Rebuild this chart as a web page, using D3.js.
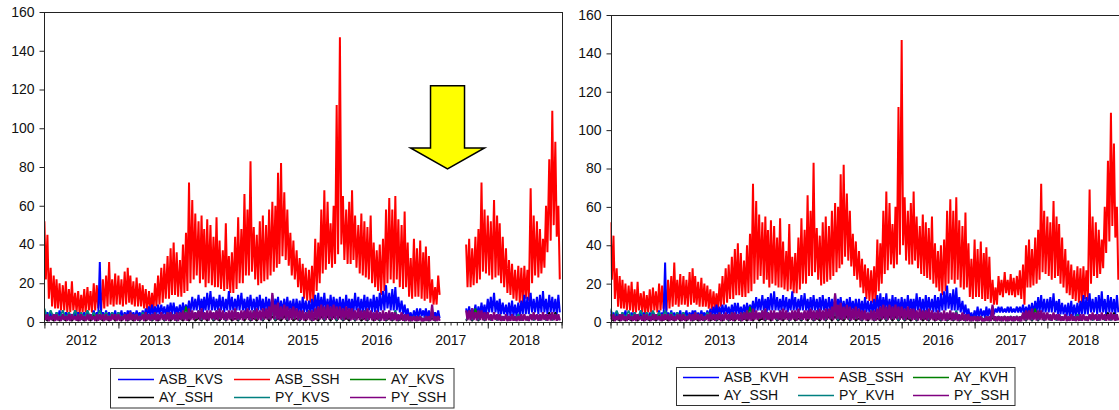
<!DOCTYPE html>
<html>
<head>
<meta charset="utf-8">
<script src="https://cdn.jsdelivr.net/npm/d3@7"></script>
<style>
  html, body { margin: 0; padding: 0; background: #ffffff; }
  svg { display: block; font-family: "Liberation Sans", Arial, sans-serif; }
</style>
</head>
<body>
<svg id="chart" width="1119" height="410"></svg>
<script>
// ---------------------------------------------------------------------------
// Daily series summarised per half-month (Jan 2012 .. Dec 2018, 168 periods):
// "Hi" = upper envelope of the period, "Lo" = lower envelope. One row per year.
// ---------------------------------------------------------------------------

// ASB_SSH
const asbSshHi = [
  52,45,28,24,22,20,19,21,17,21,15,16,14,17,18,16,20,19,17,22,24,31,22,25,
  24,22,26,28,24,21,23,20,19,17,16,15,20,24,28,30,34,38,41,36,32,40,46,72,
  63,56,52,55,48,53,50,44,54,42,37,51,34,36,44,54,48,66,58,83,49,45,52,55,
  50,58,62,60,77,82,67,58,46,42,37,33,30,28,27,29,43,41,58,68,62,51,60,112,
  147,65,58,62,68,55,50,56,52,49,55,41,37,40,43,58,64,58,65,53,50,57,41,33,
  43,38,42,36,39,34,22,18,24,22,26,22,25,23,24,27,30,40,43,38,44,48,72,58,
  55,52,63,55,51,44,38,32,30,27,29,28,29,27,69,55,52,48,43,60,84,109,93,60
];
const asbSshLo = [
  22,12,8,7,7,6,6,5,5,6,5,4,5,5,6,5,6,7,6,7,8,9,8,9,
  9,8,9,10,9,8,8,8,7,6,6,6,8,9,10,12,12,14,14,13,13,15,16,20,
  22,24,20,22,18,20,19,18,18,17,16,17,15,15,17,20,20,24,24,26,22,19,20,21,
  22,24,26,28,30,34,32,29,24,22,18,15,12,11,10,9,16,20,25,27,30,28,30,35,
  40,32,30,30,32,28,25,24,23,22,20,18,16,14,16,20,22,20,22,18,17,18,13,12,
  13,13,12,11,12,10,9,9,14,13,15,14,14,13,14,12,9,18,18,19,20,22,26,25,
  24,22,23,24,20,18,15,14,12,11,10,9,12,11,20,24,23,25,28,36,42,50,44,22
];

// ASB_KVS (null = no observations in the sample)
const asbKvsHi = [
  6,5,5,4,5,6,4,5,5,4,6,5,4,5,5,4,6,5,31,5,6,5,5,6,
  5,6,5,6,6,5,6,5,6,7,8,9,8,9,9,8,9,10,10,8,9,10,9,11,
  13,12,14,12,13,15,16,13,12,14,13,12,16,13,12,14,15,12,13,14,12,13,14,12,
  13,12,14,12,13,11,12,13,11,12,12,11,13,11,11,12,14,15,13,15,12,14,13,12,
  13,12,14,12,12,15,13,12,14,13,12,14,13,15,16,19,15,17,18,13,11,9,7,5,
  6,7,7,6,7,6,6,5,6,null,null,null,null,null,null,null,null,7,8,7,9,8,10,9,
  12,13,15,11,12,10,9,10,11,9,10,11,14,13,15,12,13,14,16,12,14,13,12,14
];
const asbKvsLo = [
  2,2,2,1,2,2,1,2,2,2,2,2,1,2,2,1,2,2,2,2,2,2,2,2,
  2,2,2,3,2,2,3,2,2,3,3,3,4,4,4,3,4,4,4,4,4,5,5,5,
  6,6,6,5,6,6,6,6,6,6,5,6,6,6,6,6,6,5,6,6,5,6,6,5,
  6,5,6,6,5,5,5,6,5,5,5,4,5,5,4,5,5,6,6,6,5,6,6,5,
  5,5,6,5,5,6,5,5,5,6,5,5,5,6,6,7,6,6,6,5,4,3,2,1,
  2,2,3,2,2,2,2,2,2,null,null,null,null,null,null,null,null,3,3,3,3,3,4,3,
  5,5,5,4,4,4,3,3,3,3,3,4,4,4,5,5,4,5,5,4,5,5,4,5
];

// ASB_KVH
const asbKvhHi = [
  6,5,5,4,5,6,4,5,5,4,6,5,4,5,5,4,6,5,31,5,6,5,5,6,
  5,6,5,6,6,5,6,5,6,7,8,9,8,9,9,8,9,10,10,8,9,10,9,11,
  13,12,14,12,13,15,16,13,12,14,13,12,16,13,12,14,15,12,13,14,12,13,14,12,
  13,12,14,12,13,11,12,13,11,12,12,11,13,11,11,12,14,15,13,15,12,14,13,12,
  13,12,14,12,12,15,13,12,14,13,12,14,13,15,16,19,15,17,18,13,11,9,7,5,
  6,8,7,6,8,7,8,7,8,8,7,8,8,7,8,8,9,8,9,10,11,13,14,12,
  12,13,15,11,12,10,9,10,11,9,10,11,14,13,15,12,13,14,16,12,14,13,12,14
];
const asbKvhLo = [
  2,2,2,1,2,2,1,2,2,2,2,2,1,2,2,1,2,2,2,2,2,2,2,2,
  2,2,2,3,2,2,3,2,2,3,3,3,4,4,4,3,4,4,4,4,4,5,5,5,
  6,6,6,5,6,6,6,6,6,6,5,6,6,6,6,6,6,5,6,6,5,6,6,5,
  6,5,6,6,5,5,5,6,5,5,5,4,5,5,4,5,5,6,6,6,5,6,6,5,
  5,5,6,5,5,6,5,5,5,6,5,5,5,6,6,7,6,6,6,5,4,3,2,1,
  2,2,3,2,3,3,4,5,5,5,5,5,5,5,5,5,4,4,4,4,5,5,5,5,
  5,5,5,4,4,4,3,3,3,3,3,4,4,4,5,5,4,5,5,4,5,5,4,5
];

// PY_SSH
const pySshHi = [
  4,4,3,4,4,3,4,3,4,4,3,4,4,3,4,4,3,4,4,4,4,3,4,4,
  4,3,4,4,5,4,4,3,4,5,4,4,5,4,5,4,5,5,4,5,5,6,5,7,
  6,5,6,7,5,6,6,5,6,7,6,5,6,6,7,5,6,6,7,6,6,7,6,7,
  7,8,15,9,10,8,9,8,7,8,7,6,6,5,6,6,7,8,9,8,9,8,9,8,
  8,7,8,7,7,6,7,6,6,7,6,5,6,5,6,5,6,5,5,4,5,4,4,3,
  3,3,3,2,3,3,9,3,3,3,3,3,3,3,3,3,5,6,6,7,5,6,6,5,
  5,4,5,4,4,3,4,3,4,3,3,4,4,3,4,5,4,4,5,4,4,5,4,4
];
const pySshLo = [
  1,0.5,1,0.5,0.8,0.5,1,0.6,0.5,1,0.7,0.5,1,0.5,0.8,1,0.5,0.7,1,0.5,0.8,0.6,1,0.5,
  0.6,1,0.5,0.8,1,0.5,0.7,1,0.5,0.9,0.6,1,0.5,0.8,1,0.6,0.5,1,0.7,0.5,1,0.8,0.6,1,
  1,1.5,0.8,1.2,1,0.7,1.4,1,0.8,1.2,1,0.9,1.3,0.8,1,1.2,0.9,1.4,1,0.8,1.2,1,0.9,1.3,
  1.2,1,1.5,1.3,1,1.4,1.2,0.9,1.1,1.3,0.8,1,0.7,1,0.9,0.6,1,1.2,1.4,1,1.3,1.1,1.5,1.2,
  1.2,1,1.3,0.9,1.1,0.8,1,1.2,0.7,1,0.9,0.6,1,0.8,0.6,1,0.7,0.9,0.5,0.8,0.6,0.5,0.4,0.5,
  0.5,0.6,0.4,0.5,0.6,0.5,0.7,0.5,0.6,0.5,0.4,0.6,0.5,0.6,0.5,0.4,0.8,1,0.9,1.1,0.8,1,0.9,0.8,
  0.9,0.7,1,0.8,0.6,0.7,0.5,0.6,0.7,0.5,0.6,0.7,0.8,0.6,0.9,1,0.7,0.8,1,0.7,0.8,0.9,0.7,0.8
];

// Monthly envelopes (84 months) for the smaller series
// PY_KVS / PY_KVH
const pyKvHi = [
  7,6,5,6,5,6,5,6,5,6,5,5,
  5,4,5,4,5,4,5,4,5,4,5,5,
  5,6,5,5,6,5,5,6,5,5,6,5,
  6,5,6,7,6,5,5,6,5,6,6,5,
  5,6,5,5,6,5,5,4,5,6,3,3,
  3,3,3,3,3,3,3,3,4,4,4,4,
  4,3,4,3,3,4,3,4,3,4,3,4
];
const pyKvLo = [
  2,2,2,2,2,2,2,2,2,2,2,2,
  2,1,2,1,2,1,2,1,2,1,2,2,
  2,1,2,1,2,1,2,1,2,1,2,1,
  2,1,2,1,2,1,2,1,2,1,2,1,
  1,2,1,2,1,2,1,1,1,1,1,1,
  1,1,1,1,1,1,1,1,1,1,1,1,
  1,1,1,1,1,1,1,1,1,1,1,1
];
// AY_KVS / AY_KVH
const ayKvHi = [
  4,3,4,3,4,3,4,3,4,3,4,3,
  3,4,3,4,3,4,3,4,3,4,5,8,
  4,3,4,5,4,3,4,5,4,3,4,4,
  4,5,4,4,3,4,3,4,4,5,4,4,
  4,3,4,3,4,3,3,4,3,2,2,2,
  2,2,2,3,3,3,3,3,4,4,7,5,
  4,3,4,3,3,4,3,3,4,3,4,3
];
const ayKvLo = [
  1,1,1,1,1,1,1,1,1,1,1,1,
  1,1,1,1,1,1,1,1,1,1,1,1,
  1,1,1,1,1,1,1,1,1,1,1,1,
  1,1,1,1,1,1,1,1,1,1,1,1,
  1,1,1,1,1,1,1,1,1,1,1,1,
  1,1,1,1,1,1,1,1,1,1,1,1,
  1,1,1,1,1,1,1,1,1,1,1,1
];
// AY_SSH
const aySshHi = [
  2,2,3,2,2,3,2,2,3,2,2,3,
  2,3,2,2,3,2,2,3,2,3,2,3,
  3,2,3,3,2,3,3,2,3,3,2,3,
  3,3,2,3,3,2,3,3,2,3,3,3,
  3,2,3,3,2,3,2,3,2,3,2,2,
  2,2,2,2,2,2,2,2,3,3,3,4,
  4,3,3,3,3,3,3,3,4,4,5,5
];
const aySshLo = [
  0.5,0.5,0.5,0.5,0.5,0.5,0.5,0.5,0.5,0.5,0.5,0.5,
  0.5,0.5,0.5,0.5,0.5,0.5,0.5,0.5,0.5,0.5,0.5,0.5,
  0.5,0.5,0.5,0.5,0.5,0.5,0.5,0.5,0.5,0.5,0.5,0.5,
  0.5,0.5,0.5,0.5,0.5,0.5,0.5,0.5,0.5,0.5,0.5,0.5,
  0.5,0.5,0.5,0.5,0.5,0.5,0.5,0.5,0.5,0.5,0.5,0.5,
  0.5,0.5,0.5,0.5,0.5,0.5,0.5,0.5,0.5,0.5,0.5,0.5,
  1,1,1,1,1,1,1,1,1,1,1,1
];

// Axis values and labels
const yTicks = [0, 20, 40, 60, 80, 100, 120, 140, 160];
const yearLabels = ["2012", "2013", "2014", "2015", "2016", "2017", "2018"];
const sampleStart = new Date(2012, 0, 1);
const sampleEnd = new Date(2019, 0, 1);

// Dates with no observations in the KVS sample
const kvsMissing = [new Date(2017, 4, 14), new Date(2017, 8, 14)];

// Arrow annotation over the missing stretch (date, value range)
const arrowDate = new Date(2017, 5, 16);
const arrowValues = [122, 79];

// Series colours
const colors = {
  blue: "#0000ff", red: "#ff0000", green: "#008000",
  black: "#000000", teal: "#008080", purple: "#800080"
};

// ---------------------------------------------------------------------------
// Build zig-zag point lists: each period contributes its upper then lower value.
// ---------------------------------------------------------------------------
function halfMonthPoints(hi, lo) {
  const pts = [];
  hi.forEach((h, k) => {
    const m = Math.floor(k / 2), second = k % 2 === 1;
    pts.push({ date: new Date(2012, m, second ? 16 : 1), value: h });
    pts.push({ date: new Date(2012, m, second ? 23 : 8), value: lo[k] });
  });
  return pts;
}
function monthPoints(hi, lo) {
  const pts = [];
  hi.forEach((h, m) => {
    pts.push({ date: new Date(2012, m, 1), value: h });
    pts.push({ date: new Date(2012, m, 16), value: lo[m] });
  });
  return pts;
}

const panels = [
  {
    range: [44.4, 561.6], top: 12, bottom: 322,
    missing: kvsMissing,
    arrow: true,
    series: [
      { name: "ASB_KVS", color: colors.blue,   width: 2,   pts: halfMonthPoints(asbKvsHi, asbKvsLo) },
      { name: "ASB_SSH", color: colors.red,    width: 2,   pts: halfMonthPoints(asbSshHi, asbSshLo) },
      { name: "AY_KVS",  color: colors.green,  width: 1.5, pts: monthPoints(ayKvHi, ayKvLo) },
      { name: "AY_SSH",  color: colors.black,  width: 1.5, pts: monthPoints(aySshHi, aySshLo) },
      { name: "PY_KVS",  color: colors.teal,   width: 1.8, pts: monthPoints(pyKvHi, pyKvLo) },
      { name: "PY_SSH",  color: colors.purple, width: 2.2, pts: halfMonthPoints(pySshHi, pySshLo) }
    ],
    legend: { box: [110.5, 368.5, 343.5, 39.5], rows: [379, 397], cols: [118, 234, 350], lineLen: 36, textGap: 5 }
  },
  {
    range: [610.5, 1120.1], top: 15, bottom: 322,
    missing: null,
    arrow: false,
    series: [
      { name: "ASB_KVH", color: colors.blue,   width: 2,   pts: halfMonthPoints(asbKvhHi, asbKvhLo) },
      { name: "ASB_SSH", color: colors.red,    width: 2,   pts: halfMonthPoints(asbSshHi, asbSshLo) },
      { name: "AY_KVH",  color: colors.green,  width: 1.5, pts: monthPoints(ayKvHi, ayKvLo) },
      { name: "AY_SSH",  color: colors.black,  width: 1.5, pts: monthPoints(aySshHi, aySshLo) },
      { name: "PY_KVH",  color: colors.teal,   width: 1.8, pts: monthPoints(pyKvHi, pyKvLo) },
      { name: "PY_SSH",  color: colors.purple, width: 2.2, pts: halfMonthPoints(pySshHi, pySshLo) }
    ],
    legend: { box: [676.5, 367.5, 338.5, 38], rows: [377, 395], cols: [683, 798, 913], lineLen: 36, textGap: 5 }
  }
];

// Red goes underneath, the remaining series are stacked in listing order
const drawOrder = [1, 0, 2, 3, 4, 5];

const svg = d3.select("#chart");

panels.forEach((p, pi) => {
  const x = d3.scaleTime().domain([sampleStart, sampleEnd]).range(p.range);
  const y = d3.scaleLinear().domain([0, 160]).range([p.bottom, p.top]);
  const g = svg.append("g");

  const clipId = "clip" + pi;
  svg.append("clipPath").attr("id", clipId)
    .append("rect")
    .attr("x", p.range[0]).attr("y", p.top)
    .attr("width", p.range[1] - p.range[0]).attr("height", p.bottom - p.top);

  const isPresent = d => d.value != null &&
    !(p.missing && d.date >= p.missing[0] && d.date <= p.missing[1]);

  const line = d3.line()
    .defined(isPresent)
    .x(d => x(d.date))
    .y(d => y(d.value));

  const plot = g.append("g").attr("clip-path", `url(#${clipId})`);
  drawOrder.forEach(i => {
    const s = p.series[i];
    plot.append("path")
      .datum(s.pts)
      .attr("fill", "none")
      .attr("stroke", s.color)
      .attr("stroke-width", s.width)
      .attr("stroke-linejoin", "bevel")
      .attr("d", line);
  });

  // Frame
  g.append("rect")
    .attr("x", Math.round(p.range[0]) + 0.5)
    .attr("y", p.top + 0.5)
    .attr("width", Math.round(p.range[1]) - Math.round(p.range[0]))
    .attr("height", p.bottom - p.top)
    .attr("fill", "none")
    .attr("stroke", "#222")
    .attr("stroke-width", 1.2)
    .attr("shape-rendering", "crispEdges");

  // Y axis
  const yAxis = g.append("g")
    .attr("transform", `translate(${Math.round(p.range[0]) + 0.5},0)`)
    .call(d3.axisLeft(y).tickValues(yTicks).tickSize(5).tickPadding(5));
  yAxis.select(".domain").remove();
  yAxis.selectAll(".tick line").attr("stroke", "#222");
  yAxis.selectAll(".tick text")
    .attr("font-size", 14).attr("fill", "#111")
    .attr("font-family", "'Liberation Sans', Arial, sans-serif");

  // X axis: monthly minor ticks, yearly major ticks
  const xMinor = g.append("g")
    .attr("transform", `translate(0,${p.bottom + 0.5})`)
    .call(d3.axisBottom(x).ticks(d3.timeMonth.every(1)).tickSize(3).tickFormat(""));
  xMinor.select(".domain").remove();
  xMinor.selectAll(".tick line").attr("stroke", "#222");

  const xMajor = g.append("g")
    .attr("transform", `translate(0,${p.bottom + 0.5})`)
    .call(d3.axisBottom(x).ticks(d3.timeYear.every(1)).tickSize(6).tickFormat(""));
  xMajor.select(".domain").remove();
  xMajor.selectAll(".tick line").attr("stroke", "#222");

  g.append("g").selectAll("text")
    .data(yearLabels)
    .join("text")
    .attr("x", d => x(new Date(+d, 6, 2)))
    .attr("y", p.bottom + 23)
    .attr("text-anchor", "middle")
    .attr("font-size", 14)
    .attr("fill", "#111")
    .text(d => d);

  // Legend
  const L = p.legend;
  g.append("rect")
    .attr("x", L.box[0]).attr("y", L.box[1])
    .attr("width", L.box[2]).attr("height", L.box[3])
    .attr("fill", "#fff").attr("stroke", "#333").attr("stroke-width", 1);
  p.series.forEach((s, i) => {
    const row = Math.floor(i / 3), col = i % 3;
    const cx = L.cols[col], cy = L.rows[row];
    g.append("line")
      .attr("x1", cx).attr("x2", cx + L.lineLen)
      .attr("y1", cy + 0.5).attr("y2", cy + 0.5)
      .attr("stroke", s.color).attr("stroke-width", 1.3);
    g.append("text")
      .attr("x", cx + L.lineLen + L.textGap)
      .attr("y", cy + 5)
      .attr("font-size", 14)
      .attr("fill", "#111")
      .text(s.name);
  });

  // Arrow pointing at the missing stretch
  if (p.arrow) {
    const cx = x(arrowDate);
    const yTop = y(arrowValues[0]), yTip = y(arrowValues[1]);
    const shaft = 17, head = 37, headH = 21;
    const pts = [
      [cx - shaft, yTop], [cx + shaft, yTop], [cx + shaft, yTip - headH],
      [cx + head, yTip - headH], [cx, yTip], [cx - head, yTip - headH],
      [cx - shaft, yTip - headH]
    ];
    g.append("path")
      .attr("d", d3.line()(pts) + "Z")
      .attr("fill", "#ffff00")
      .attr("stroke", "#000")
      .attr("stroke-width", 1.5)
      .attr("stroke-linejoin", "miter");
  }
});
</script>
</body>
</html>
